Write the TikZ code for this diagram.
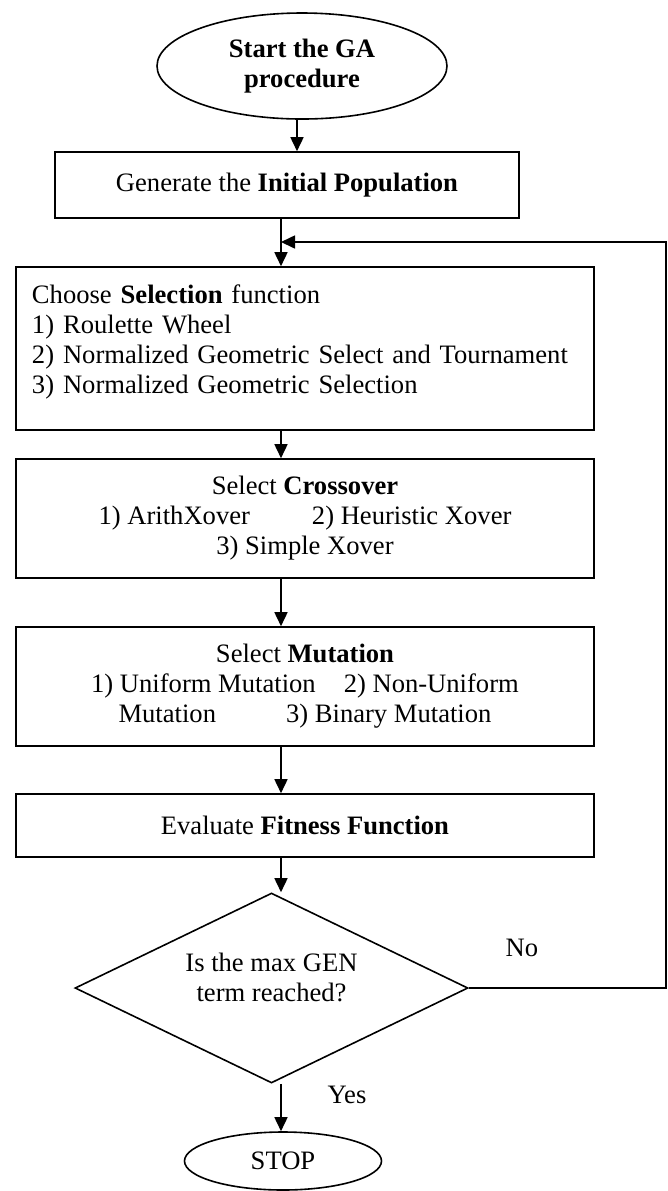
\documentclass[tikz,border=0pt]{standalone}
\usepackage{fontspec}
\setmainfont{Liberation Serif}
\usetikzlibrary{shapes.geometric,arrows.meta}

\begin{document}
\begin{tikzpicture}[x=0.5pt, y=-0.5pt,
    font=\fontsize{13.3}{15}\selectfont,
    line width=0.8pt,
    >={Triangle[length=7pt,width=6.5pt]},
    term/.style={draw, ellipse, inner sep=0pt, align=center},
    stepbox/.style={draw, rectangle, inner sep=0pt, align=center, minimum width=289pt},
    decide/.style={draw, diamond, aspect=2, inner sep=0pt, align=center}]
  \useasboundingbox (0,0) rectangle (668,1191);
  \coordinate (col) at (281,0);
  \coordinate (top) at (297,0);
  \coordinate (loop) at (666,0);
  \coordinate (back) at (281,242);

  \node[term, minimum width=145pt, minimum height=53pt, font=\fontsize{13.3}{15}\selectfont\bfseries] (start) at (302,66) {Start the GA\\procedure};
  \node[stepbox, minimum width=232pt, minimum height=33pt] (init) at (287,185) {Generate the \textbf{Initial Population}};
  \node[stepbox, minimum height=81.5pt, text width=273pt, text depth=54pt, align=left] (sel) at (305,348.5) {Choose \textbf{Selection} function\\1) Roulette Wheel\\2) Normalized Geometric Select and Tournament\\3) Normalized Geometric Selection};
  \node[stepbox, minimum height=59.5pt] (cross) at (305,518.5) {Select \textbf{Crossover}\\1) ArithXover\hspace{31pt}2) Heuristic Xover\\3) Simple Xover};
  \node[stepbox, minimum height=59.5pt] (mut) at (305,686.5) {Select \textbf{Mutation}\\1) Uniform Mutation\hspace{14pt}2) Non-Uniform\\Mutation\hspace{35pt}3) Binary Mutation};
  \node[stepbox, minimum height=31.5pt] (eval) at (305,825.5) {Evaluate \textbf{Fitness Function}};
  \node[decide, minimum width=196.5pt, minimum height=95pt, text depth=11pt] (dec) at (271.5,988) {Is the max GEN\\term reached?};
  \node[term, minimum width=98.5pt, minimum height=29pt] (stop) at (283,1161) {STOP};
  \node (no) at (522,948) {No};
  \node (yes) at (347,1095) {Yes};

  \draw[->] (start.south -| top) -- (init.north -| top);
  \draw[->] (init.south -| col) -- (sel.north -| col);
  \draw[->] (sel.south -| col) -- (cross.north -| col);
  \draw[->] (cross.south -| col) -- (mut.north -| col);
  \draw[->] (mut.south -| col) -- (eval.north -| col);
  \draw[->] (eval.south -| col) -- (dec.north -| col);
  \draw[->] (dec.south -| col) -- (stop.north -| col);
  \draw[->] (dec.east) -- (dec.east -| loop) |- (back);
\end{tikzpicture}
\end{document}
